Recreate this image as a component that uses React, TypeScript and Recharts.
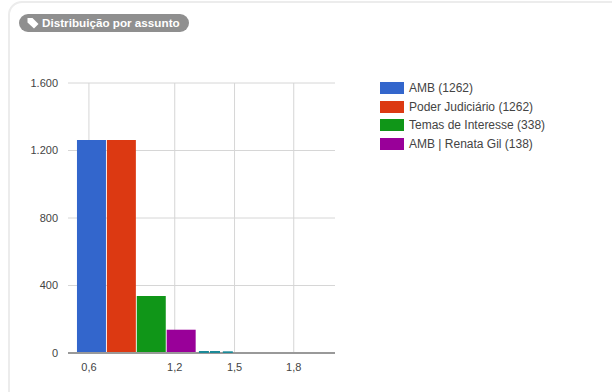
import React from "react";
import { Bar, ComposedChart, ReferenceLine, XAxis, YAxis } from "recharts";

// Subjects and how many items fall under each one
const subjects = ["AMB", "Poder Judiciário", "Temas de Interesse", "AMB | Renata Gil"];
const counts = [1262, 1262, 338, 138];
const colors = ["#3366cc", "#dc3912", "#109618", "#990099"];

// Histogram columns: one slot per named subject, finer slots for the minor subjects
const slots = [0, 1, 2, 3];
const fineSlots = [3.73, 4.1, 4.53];
const fineCounts = [12, 12, 10];

const tickSlots = [-0.1, 2.77, 4.77, 6.75];
const tickLabels = ["0,6", "1,2", "1,5", "1,8"];
const yTicks = [0, 400, 800, 1200, 1600];

const rows = slots.map((slot, i) => {
  const row: Record<string, number | null> = { slot };
  subjects.forEach((s, j) => {
    row[s] = i === j ? counts[j] : null;
  });
  return row;
});
const fineRows = fineSlots.map((slot, i) => ({ slot, minor: fineCounts[i] }));

const xDomain: [number, number] = [-0.8, 8.13];
const yDomain: [number, number] = [0, 1600];
const gridColor = "#d6d6d6";
const fontFamily = "'Liberation Sans', Arial, sans-serif";
const tickStyle = { fontSize: 11, fill: "#444", fontFamily };

function SubjectLegend() {
  return (
    <div style={{ position: "absolute", left: 380, top: 79, fontFamily, fontSize: 12, color: "#444" }}>
      {subjects.map((s, i) => (
        <div key={s} style={{ display: "flex", alignItems: "center", height: 18.5 }}>
          <span style={{ width: 24, height: 12, background: colors[i], marginRight: 5, display: "inline-block" }} />
          <span>{`${s} (${counts[i]})`}</span>
        </div>
      ))}
    </div>
  );
}

// All chart layers share the same plot box and scales
const layerStyle: React.CSSProperties = { position: "absolute", left: 0, top: 0 };
const axisMargin = { top: 83, right: 277, bottom: 0, left: 0 };
const plotMargin = { top: 83, right: 277, bottom: 39, left: 68 };

export default function App() {
  return (
    <div style={{ position: "absolute", left: 0, top: 0, width: 612, height: 392, background: "#fff", overflow: "hidden" }}>
      <div
        style={{
          position: "absolute",
          left: 8,
          top: 1,
          width: 640,
          height: 420,
          border: "2px solid #ececec",
          borderRadius: 14,
          boxSizing: "border-box",
        }}
      />
      <div
        style={{
          position: "absolute",
          left: 19,
          top: 14,
          width: 170,
          height: 18,
          borderRadius: 9,
          background: "#8f8f8f",
          color: "#fff",
          fontFamily,
          fontSize: 11.7,
          fontWeight: 700,
          lineHeight: "18px",
          display: "flex",
          alignItems: "center",
          whiteSpace: "nowrap",
        }}
      >
        <svg width="12" height="12" viewBox="0 0 12 12" style={{ marginLeft: 8, marginRight: 3 }}>
          <path d="M0.5 1 L5.5 1 L11.5 7 L7 11.5 L0.5 5.5 Z" fill="#fff" />
        </svg>
        Distribuição por assunto
      </div>

      {/* Grid layer, kept underneath the bars; the unfilled series gives its scales their data */}
      <ComposedChart width={612} height={392} data={rows} margin={axisMargin} style={layerStyle}>
        {yTicks.map((t) => (
          <ReferenceLine key={t} y={t} stroke={gridColor} strokeWidth={1} />
        ))}
        {tickSlots.map((t) => (
          <ReferenceLine key={t} x={t} stroke={gridColor} strokeWidth={1} />
        ))}
        <XAxis
          type="number"
          dataKey="slot"
          domain={xDomain}
          ticks={tickSlots}
          tick={false}
          tickLine={false}
          axisLine={false}
          height={39}
          allowDataOverflow
        />
        <YAxis type="number" domain={yDomain} ticks={yTicks} tick={false} tickLine={false} axisLine={false} width={68} />
        <Bar dataKey={subjects[0]} fill="none" barSize={29} isAnimationActive={false} />
      </ComposedChart>

      {/* Subject bars and axes */}
      <ComposedChart width={612} height={392} data={rows} margin={axisMargin} style={layerStyle}>
        <XAxis
          type="number"
          dataKey="slot"
          domain={xDomain}
          ticks={tickSlots}
          tickFormatter={(v: number) => tickLabels[tickSlots.indexOf(v)]}
          tick={tickStyle}
          tickLine={false}
          axisLine={{ stroke: "#999", strokeWidth: 2 }}
          height={39}
          tickMargin={4}
          allowDataOverflow
        />
        <YAxis
          type="number"
          domain={yDomain}
          ticks={yTicks}
          tickFormatter={(v: number) => v.toLocaleString("de-DE")}
          tick={tickStyle}
          tickLine={false}
          axisLine={false}
          width={68}
          tickMargin={4}
        />
        {subjects.map((s, i) => (
          <Bar key={s} dataKey={s} name={s} stackId="subjects" fill={colors[i]} barSize={29} isAnimationActive={false} />
        ))}
      </ComposedChart>

      {/* The minor subjects sit on a finer slot spacing, so they get their own layer */}
      <ComposedChart width={612} height={392} data={fineRows} margin={plotMargin} style={layerStyle}>
        <XAxis type="number" dataKey="slot" domain={xDomain} hide allowDataOverflow />
        <YAxis type="number" domain={yDomain} hide />
        <Bar dataKey="minor" fill="#1c8a98" barSize={10} isAnimationActive={false} />
      </ComposedChart>
      <SubjectLegend />
    </div>
  );
}
